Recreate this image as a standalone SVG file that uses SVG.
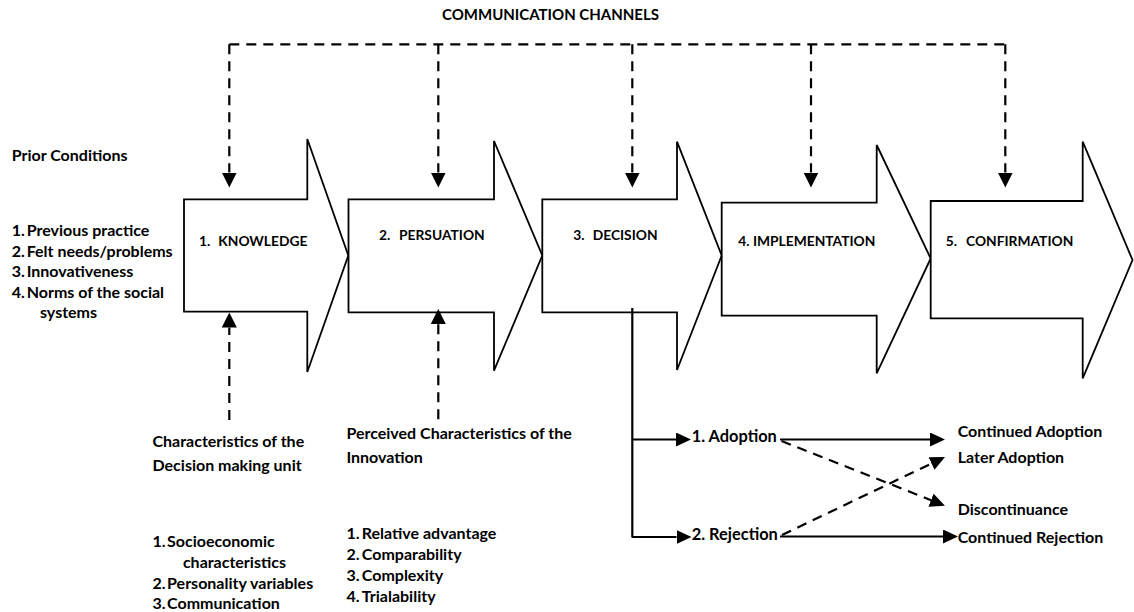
<svg xmlns="http://www.w3.org/2000/svg" width="1134" height="612" viewBox="0 0 1134 612">
  <style>
    text { font-family: Lato, "Liberation Sans", sans-serif; font-weight: 700; font-size: 16px; fill: #000; }
    .title { font-size: 15px; }
    .label { font-size: 13.8px; }
    .outcome { font-size: 16.4px; }
    .stage { fill: #fff; stroke: #000; stroke-width: 1.8; stroke-linejoin: miter; }
    .dash { fill: none; stroke: #000; stroke-width: 2.2; stroke-dasharray: 10 7; }
    .solid { fill: none; stroke: #000; stroke-width: 2.2; }
  </style>
  <defs>
    <marker id="headDown" viewBox="0 0 15 15" refX="0" refY="7.5" markerWidth="15" markerHeight="15" markerUnits="userSpaceOnUse" orient="auto">
      <path d="M0,0 L15,7.5 L0,15 z" fill="#000"/>
    </marker>
    <marker id="head" viewBox="0 0 15 14" refX="0" refY="7" markerWidth="15" markerHeight="14" markerUnits="userSpaceOnUse" orient="auto">
      <path d="M0,0 L15,7 L0,14 z" fill="#000"/>
    </marker>
  </defs>

  <!-- title above the channel bus -->
  <text id="channels-title" class="title" x="442" y="20">COMMUNICATION CHANNELS</text>

  <!-- five stage arrows -->
  <g id="knowledge">
    <path class="stage" d="M184,199.3 H307.3 V139 L348.3,255.5 L307.3,372 V311.7 H184 Z"/>
    <text class="label" x="199" y="245.7">1.</text>
    <text class="label" x="218.3" y="245.7">KNOWLEDGE</text>
  </g>
  <g id="persuasion">
    <path class="stage" d="M348.5,199.3 H494 V141 L542.3,255.5 L494,370.7 V312.3 H348.5 Z"/>
    <text class="label" x="379" y="240">2.</text>
    <text class="label" x="399" y="240">PERSUATION</text>
  </g>
  <g id="decision">
    <path class="stage" d="M542.3,199.3 H677 V141.7 L721.7,255.5 L677,370 V312.3 H542.3 Z"/>
    <text class="label" x="573.3" y="240">3.</text>
    <text class="label" x="592.7" y="240">DECISION</text>
  </g>
  <g id="implementation">
    <path class="stage" d="M721.7,202.7 H876.7 V145 L930.7,258.5 L876.7,373.3 V315.7 H721.7 Z"/>
    <text class="label" x="738.3" y="245.7">4. IMPLEMENTATION</text>
  </g>
  <g id="confirmation">
    <path class="stage" d="M930.7,201 H1082.7 V141.7 L1132.5,260 L1082.7,378.3 V318.3 H930.7 Z"/>
    <text class="label" x="945.7" y="245.7">5.</text>
    <text class="label" x="966" y="245.7">CONFIRMATION</text>
  </g>

  <!-- prior conditions -->
  <g id="prior-conditions">
    <text x="11.7" y="160.5">Prior Conditions</text>
    <text y="236"><tspan x="11.7">1.</tspan><tspan x="26.7">Previous practice</tspan></text>
    <text y="256.7"><tspan x="11.7">2.</tspan><tspan x="26.7">Felt needs/problems</tspan></text>
    <text y="277"><tspan x="11.7">3.</tspan><tspan x="26.7">Innovativeness</tspan></text>
    <text y="297.7"><tspan x="11.7">4.</tspan><tspan x="26.7">Norms of the social</tspan></text>
    <text x="40" y="318">systems</text>
  </g>

  <!-- characteristics of the decision making unit -->
  <g id="unit-characteristics">
    <text x="152.5" y="447">Characteristics of the</text>
    <text x="152.5" y="470.7">Decision making unit</text>
    <text y="547.3"><tspan x="152.5">1.</tspan><tspan x="167.1">Socioeconomic</tspan></text>
    <text x="182.9" y="568.3">characteristics</text>
    <text y="588.7"><tspan x="152.5">2.</tspan><tspan x="167.1">Personality variables</tspan></text>
    <text y="609.3"><tspan x="152.5">3.</tspan><tspan x="167.1">Communication</tspan></text>
  </g>

  <!-- perceived characteristics of the innovation -->
  <g id="innovation-characteristics">
    <text x="346.4" y="439.3">Perceived Characteristics of the</text>
    <text x="346.4" y="462.7">Innovation</text>
    <text y="539.3"><tspan x="346.4">1.</tspan><tspan x="361.8">Relative advantage</tspan></text>
    <text y="560"><tspan x="346.4">2.</tspan><tspan x="361.8">Comparability</tspan></text>
    <text y="581"><tspan x="346.4">3.</tspan><tspan x="361.8">Complexity</tspan></text>
    <text y="601.7"><tspan x="346.4">4.</tspan><tspan x="361.8">Trialability</tspan></text>
  </g>

  <!-- decision outcomes -->
  <g id="adoption"><text class="outcome" x="691.7" y="442.3">1. Adoption</text></g>
  <g id="rejection"><text class="outcome" x="691.7" y="539.5">2. Rejection</text></g>
  <g id="continued-adoption"><text x="957.7" y="436.7">Continued Adoption</text></g>
  <g id="later-adoption"><text x="957.7" y="463.3">Later Adoption</text></g>
  <g id="discontinuance"><text x="957.7" y="515">Discontinuance</text></g>
  <g id="continued-rejection"><text x="957.7" y="543.3">Continued Rejection</text></g>

  <g id="connectors">
    <!-- communication channel bus and drops -->
    <path class="dash" d="M229.3,44.3 H1005.3"/>
    <path class="dash" d="M229.3,44.3 V172.5" marker-end="url(#headDown)"/>
    <path class="dash" d="M438.3,44.3 V172.5" marker-end="url(#headDown)"/>
    <path class="dash" d="M632.3,44.3 V172.5" marker-end="url(#headDown)"/>
    <path class="dash" d="M811,44.3 V172.5" marker-end="url(#headDown)"/>
    <path class="dash" d="M1005.3,44.3 V172.5" marker-end="url(#headDown)"/>
    <!-- influences rising from below -->
    <path class="dash" d="M229.3,420 V327.5" marker-end="url(#headDown)"/>
    <path class="dash" d="M438.3,419.3 V324" marker-end="url(#headDown)"/>
    <!-- decision branches -->
    <path class="solid" d="M632.3,308 V537.5"/>
    <path class="solid" d="M632.3,439.5 H676" marker-end="url(#head)"/>
    <path class="solid" d="M632.3,537 H676.5" marker-end="url(#head)"/>
    <path class="solid" d="M780,439.5 H930" marker-end="url(#head)"/>
    <path class="solid" d="M780,536.5 H943" marker-end="url(#head)"/>
    <path class="dash" d="M781.5,441 L931,500.2" marker-end="url(#head)"/>
    <path class="dash" d="M782,535 L931.5,463.5" marker-end="url(#head)"/>
  </g>
</svg>
